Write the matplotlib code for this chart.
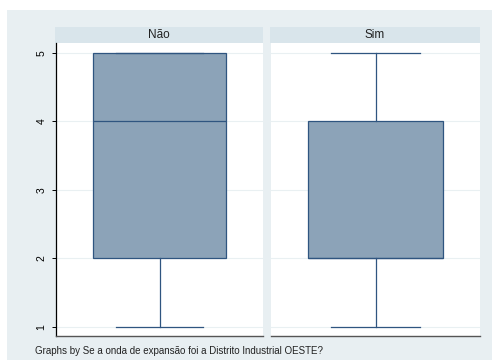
import matplotlib
matplotlib.use("Agg")
import matplotlib.pyplot as plt
from matplotlib.patches import Rectangle

plt.rcParams["font.family"] = ["Liberation Sans", "DejaVu Sans"]

# Summary statistics per group (1-5 scale)
groups = ["Não", "Sim"]
q1 = [2, 2]
median = [4, 2]
q3 = [5, 4]
whisker_low = [1, 1]
whisker_high = [5, 5]
yticks = [1, 2, 3, 4, 5]
caption = "Graphs by Se a onda de expansão foi a Distrito Industrial OESTE?"

W, H = 492, 360
fig = plt.figure(figsize=(W / 100, H / 100), dpi=100)
fig.patch.set_facecolor("white")

BG = "#e8eff2"
STRIP = "#d9e5eb"
FILL = "#8ca3b8"
EDGE = "#2f5580"
GRID = "#e9f0f2"


def px(x0, y0, x1, y1):
    # pixel box (top-left origin) -> figure fraction rect
    return [x0 / W, 1 - y1 / H, (x1 - x0) / W, (y1 - y0) / H]


fig.patches.append(Rectangle((7 / W, 0), 1 - 7 / W, 1 - 10 / H,
                             transform=fig.transFigure, facecolor=BG,
                             edgecolor="none", zorder=-10))

panels = [(56, 263), (271, 480)]
top, bottom = 43, 336
ylo = 1 - 9.3 / 68.4
yhi = 5 + 10 / 68.4

for i, (g, (xl, xr)) in enumerate(zip(groups, panels)):
    # strip header
    sax = fig.add_axes(px(xl - 1, 27, xr, top))
    sax.set_facecolor(STRIP)
    sax.set_xticks([]); sax.set_yticks([])
    for s in sax.spines.values():
        s.set_visible(False)
    sax.text(0.5, 0.5, g, ha="center", va="center", fontsize=8.5,
             color="#222222", transform=sax.transAxes)

    ax = fig.add_axes(px(xl, top, xr, bottom))
    ax.set_facecolor("white")
    ax.set_xlim(0, 1)
    ax.set_ylim(ylo, yhi)
    for y in yticks:
        ax.axhline(y, color=GRID, lw=0.8, zorder=0)
    stats = [dict(med=median[i], q1=q1[i], q3=q3[i],
                  whislo=whisker_low[i], whishi=whisker_high[i], fliers=[])]
    ax.bxp(stats, positions=[0.5], widths=[0.643], patch_artist=True,
           showfliers=False, capwidths=[0.425],
           boxprops=dict(facecolor=FILL, edgecolor=EDGE, linewidth=0.9),
           medianprops=dict(color=EDGE, linewidth=0.9),
           whiskerprops=dict(color=EDGE, linewidth=0.9),
           capprops=dict(color=EDGE, linewidth=0.9))
    ax.set_xlim(0, 1)
    ax.set_xticks([])
    ax.spines["top"].set_visible(False)
    ax.spines["right"].set_visible(False)
    ax.spines["bottom"].set_color("#555555")
    ax.spines["bottom"].set_linewidth(1.0)
    if i == 0:
        ax.spines["left"].set_color("black")
        ax.spines["left"].set_linewidth(0.9)
        ax.set_yticks(yticks)
        ax.set_yticklabels([str(t) for t in yticks], rotation=90,
                           va="center", fontsize=7.5)
        ax.tick_params(axis="y", length=3, width=0.7, pad=4, colors="black")
    else:
        ax.spines["left"].set_visible(False)
        ax.set_yticks([])

fig.text(35 / W, 1 - 351 / H, caption, fontsize=7, color="#222222",
         ha="left", va="center")

fig.savefig("out.png", dpi=100, facecolor=fig.get_facecolor())
